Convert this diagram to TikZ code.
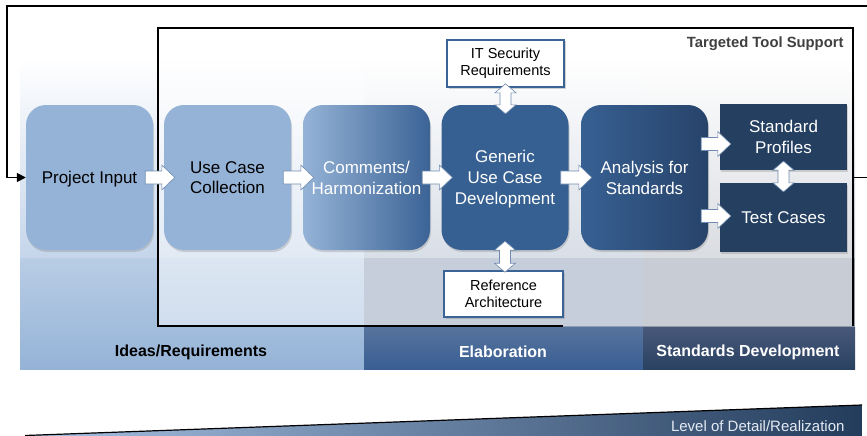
\documentclass[tikz,border=0pt]{standalone}
\usepackage{fontspec}
\setmainfont{Liberation Sans}
\usetikzlibrary{calc,shadows,arrows.meta}
\definecolor{lightbox}{HTML}{95B3D7}
\definecolor{midbox}{HTML}{376092}
\definecolor{darkbox}{HTML}{243F60}
\definecolor{borderblue}{HTML}{3A6396}
\definecolor{arrowline}{HTML}{6F8BB0}
\definecolor{labelgray}{HTML}{404040}
\definecolor{cmright}{HTML}{3B6395}
\definecolor{anright}{HTML}{27436A}
\definecolor{cAup}{HTML}{C5D5EA}
\definecolor{cBup}{HTML}{B3BFD0}
\definecolor{cCup}{HTML}{B5BAC4}
\definecolor{cAlowtop}{HTML}{B9CDE5}
\definecolor{cBlow}{HTML}{8D9DB7}
\definecolor{cClow}{HTML}{9199A9}
\definecolor{bandBtop}{HTML}{56739C}
\definecolor{bandBbot}{HTML}{3A5F94}
\definecolor{bandCtop}{HTML}{48587A}
\definecolor{bandCbot}{HTML}{2A4262}
\definecolor{wedgeL}{HTML}{A8C2E4}
\definecolor{wedgeM}{HTML}{3D6499}
\definecolor{wedgeR}{HTML}{233C5C}
\definecolor{leveltext}{HTML}{E4EAF2}
\newcommand\harrow[2]{%
  \draw[blockarrow] let \p1=#1, \p2=#2 in
    (\x1,\y2+6.5pt) -- (\x2-13pt,\y2+6.5pt) -- (\x2-13pt,\y2+12.5pt) -- (\x2,\y2)
    -- (\x2-13pt,\y2-12.5pt) -- (\x2-13pt,\y2-6.5pt) -- (\x1,\y2-6.5pt) -- cycle;}
\newcommand\vdarrow[2]{%
  \draw[blockarrow] let \p1=#1, \p2=#2 in
    (\x1,\y1) -- (\x1+10.5pt,\y1-9pt) -- (\x1+5.5pt,\y1-9pt) -- (\x1+5.5pt,\y2+9pt)
    -- (\x1+10.5pt,\y2+9pt) -- (\x1,\y2) -- (\x1-10.5pt,\y2+9pt) -- (\x1-5.5pt,\y2+9pt)
    -- (\x1-5.5pt,\y1-9pt) -- (\x1-10.5pt,\y1-9pt) -- cycle;}
\begin{document}
\begin{tikzpicture}[x=1pt,y=-1pt,
  stepbox/.style={rounded corners=20pt, minimum width=127pt, minimum height=145pt,
    align=center, inner sep=1pt, text depth=0pt, font=\fontsize{17}{20.7}\selectfont,
    drop shadow={shadow xshift=1pt, shadow yshift=-2pt, opacity=0.3}},
  sidebox/.style={rectangle, fill=darkbox, text=white, minimum width=127pt,
    align=center, inner sep=1pt, text depth=0pt, font=\fontsize{17}{20.7}\selectfont,
    drop shadow={shadow xshift=1pt, shadow yshift=-2pt, opacity=0.3}},
  infobox/.style={rectangle, fill=white, draw=borderblue, line width=1.6pt,
    align=center, inner sep=1pt, font=\fontsize{14.5}{16.5}\selectfont,
    drop shadow={shadow xshift=1.5pt, shadow yshift=-1.5pt, opacity=0.35}},
  blockarrow/.style={fill=white, draw=arrowline, line width=0.6pt},
  bandlabel/.style={font=\fontsize{16}{18}\selectfont\bfseries},
  fbline/.style={draw=black, line width=1.6pt}]
\useasboundingbox (0,0) rectangle (867,436);
\fill[white] (0,0) rectangle (867,436);
% background columns (upper part)
\shade[top color=white, bottom color=cAup] (20,58) rectangle (364,258);
\shade[top color=white, bottom color=cBup] (364,58) rectangle (643,258);
\shade[top color=white, bottom color=cCup] (643,58) rectangle (855,258);
% lower part
\shade[top color=cAlowtop, bottom color=lightbox] (20,258) rectangle (364,369);
\fill[cBlow] (364,258) rectangle (643,327);
\fill[cClow] (643,258) rectangle (855,327);
\shade[top color=bandBtop, bottom color=bandBbot] (364,327) rectangle (643,369);
\shade[top color=bandCtop, bottom color=bandCbot] (643,327) rectangle (855,369);
% targeted tool support frame
\coordinate (ttNW) at (158,28);
\coordinate (ttSE) at (853,326);
\fill[white, fill opacity=0.5] (ttNW) rectangle (ttSE);
\draw[line width=1.6pt] (563,326) -| (ttNW) -| (ttSE);
\draw[line width=1.6pt] (158,326) -- (563,326);
\node[font=\fontsize{14.8}{17}\selectfont\bfseries, text=labelgray, anchor=east]
  (tts) at (847,44) {Targeted Tool Support};
% band labels
\node[bandlabel, text=black] (b1) at (191,352) {Ideas/Requirements};
\node[bandlabel, text=white] (b2) at (503,352) {Elaboration};
\node[bandlabel, text=white] (b3) at (748,352) {Standards Development};
% process boxes
\node[stepbox, fill=lightbox, text=black] (PI) at (89.5,177.5) {Project Input};
\node[stepbox, fill=lightbox, text=black] (UC) at (227.5,177.5) {Use Case\\Collection};
\node[stepbox, left color=lightbox, right color=cmright, text=white] (CH) at (366.5,177.5) {Comments/\\Harmonization};
\node[stepbox, fill=midbox, text=white] (GU) at (505,177.5) {Generic\\Use Case\\Development};
\node[stepbox, left color=midbox, right color=anright, text=white] (AS) at (644.5,177.5) {Analysis for\\Standards};
\node[sidebox, minimum height=66pt] (SP) at (783.5,137) {Standard\\Profiles};
\node[sidebox, minimum height=69pt] (TC) at (783.5,217.5) {Test Cases};
\node[infobox, minimum width=117pt, minimum height=47pt] (IT) at (505.5,63.5) {IT Security\\Requirements};
\node[infobox, minimum width=119pt, minimum height=46pt] (RA) at (503.5,294) {Reference\\Architecture};
% block arrows
\harrow{($(PI.east)+(-8,0)$)}{($(UC.west)+(11,0)$)}
\harrow{($(UC.east)+(-8,0)$)}{($(CH.west)+(11,0)$)}
\harrow{($(CH.east)+(-8,0)$)}{($(GU.west)+(11,0)$)}
\harrow{($(GU.east)+(-8,0)$)}{($(AS.west)+(11,0)$)}
\harrow{($(AS.east)+(-7,0)$)}{($(SP.west)+(11,7)$)}
\harrow{($(AS.east)+(-7,0)$)}{($(TC.west)+(11,-1.5)$)}
\vdarrow{($(IT.south)+(0,-4)$)}{($(GU.north)+(0,9)$)}
\vdarrow{($(GU.south)+(0,-9)$)}{($(RA.north)+(0,2)$)}
\vdarrow{($(SP.south)+(0,-9)$)}{($(TC.north)+(0,9)$)}
% feedback loop
\coordinate (fbR) at (ttSE |- PI.west);
\draw[fbline, -{Triangle[length=9pt,width=9pt]}] (fbR) -- ++(20,0) |- (7,6) |- (PI.west);
% level of detail wedge
\shade[left color=wedgeL, middle color=wedgeM, right color=wedgeR]
  (25,435.5) -- (862,405) -- (862,438) -- (25,438) -- cycle;
\draw[line width=1.2pt] (25,435.5) -- (862,405);
\node[font=\fontsize{15}{17}\selectfont, text=leveltext, anchor=base east]
  (lod) at (848,431) {Level of Detail/Realization};
\end{tikzpicture}
\end{document}
